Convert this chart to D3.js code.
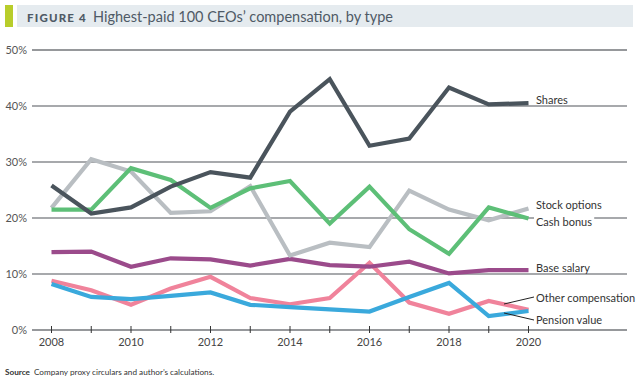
<!DOCTYPE html>
<html><head><meta charset="utf-8">
<script src="https://cdn.jsdelivr.net/npm/d3@7/dist/d3.min.js"></script>
<style>
body{margin:0;background:#fff;}
svg{display:block;font-family:Lato,"Open Sans",sans-serif;}
</style></head>
<body><svg id="c" width="640" height="386"></svg>
<script>
const years = [2008,2009,2010,2011,2012,2013,2014,2015,2016,2017,2018,2019,2020];
const shares        = [25.8,20.8,21.9,25.6,28.2,27.2,39.0,44.8,32.9,34.2,43.3,40.3,40.5];
const cashBonus     = [21.5,21.5,28.9,26.8,21.8,25.3,26.6,19.0,25.6,18.0,13.6,21.9,19.9];
const stockOptions  = [21.8,30.5,28.3,20.9,21.2,25.7,13.3,15.6,14.8,24.9,21.5,19.6,21.7];
const baseSalary    = [13.9,14.0,11.3,12.8,12.6,11.5,12.7,11.6,11.3,12.2,10.1,10.7,10.7];
const otherComp     = [8.8,7.1,4.5,7.4,9.5,5.7,4.6,5.7,12.0,4.9,2.9,5.2,3.6];
const pensionValue  = [8.2,5.9,5.5,6.1,6.7,4.5,4.1,3.7,3.3,5.9,8.4,2.5,3.4];
const yTicks = [0,10,20,30,40,50];
const xTickLabels = [2008,2010,2012,2014,2016,2018,2020];

const series = [
  {name:"Other compensation", values:otherComp, color:"#f0839b"},
  {name:"Pension value", values:pensionValue, color:"#3aa9dc"},
  {name:"Base salary", values:baseSalary, color:"#9b4b8b"},
  {name:"Stock options", values:stockOptions, color:"#b9bec2"},
  {name:"Cash bonus", values:cashBonus, color:"#5dbf77"},
  {name:"Shares", values:shares, color:"#4a545c"}
];

const svg = d3.select("#c");
const x = d3.scaleLinear().domain([2008,2020]).range([51.5,528.5]);
const y = d3.scaleLinear().domain([0,50]).range([330,50]);
const gx0 = 32, gx1 = 627;

// title banner
svg.append("rect").attr("x",5).attr("y",5).attr("width",8).attr("height",22).attr("fill","#b8cd2b");
svg.append("rect").attr("x",17).attr("y",5).attr("width",616).attr("height",22).attr("fill","#e5ebef");
const t = svg.append("text").attr("x",27).attr("y",21.5).attr("fill","#4f5a66");
t.append("tspan").attr("font-weight","900").attr("font-size",11.5).attr("letter-spacing",1.2).text("FIGURE 4");
t.append("tspan").attr("dx",6).attr("font-size",14.5).text("Highest-paid 100 CEOs’ compensation, by type");

// gridlines
svg.append("g").selectAll("line").data(yTicks).join("line")
  .attr("x1",gx0).attr("x2",gx1)
  .attr("y1",d=>y(d)).attr("y2",d=>y(d))
  .attr("stroke",d=>(d===0||d===50)?"#2f3338":"#8a8d90")
  .attr("stroke-width",d=>(d===0||d===50)?1.1:1.3);

// y labels
svg.append("g").selectAll("text").data(yTicks).join("text")
  .attr("x",27).attr("y",d=>y(d)+4).attr("text-anchor","end")
  .attr("font-size",11).attr("fill","#555").text(d=>d+"%");

// x axis ticks
svg.append("g").selectAll("line").data(years).join("line")
  .attr("x1",d=>x(d)).attr("x2",d=>x(d)).attr("y1",326).attr("y2",333)
  .attr("stroke","#333").attr("stroke-width",1);
svg.append("g").selectAll("text").data(xTickLabels).join("text")
  .attr("x",d=>x(d)).attr("y",346).attr("text-anchor","middle")
  .attr("font-size",11).attr("fill","#444").text(d=>d);

// lines
const line = d3.line().x((d,i)=>x(years[i])).y(d=>y(d));
svg.append("g").selectAll("path").data(series).join("path")
  .attr("d",d=>line(d.values)).attr("fill","none")
  .attr("stroke",d=>d.color).attr("stroke-width",4.2)
  .attr("stroke-linejoin","miter").attr("stroke-linecap","butt");

// labels
const lab = [
  {text:"Shares", y:104},
  {text:"Stock options", y:209},
  {text:"Cash bonus", y:226, knock:true},
  {text:"Base salary", y:272},
  {text:"Other compensation", y:302},
  {text:"Pension value", y:324}
];
const lg = svg.append("g");
lab.forEach(l=>{
  const tx = lg.append("text").attr("x",536).attr("y",l.y).attr("font-size",11)
    .attr("fill","#333").text(l.text);
  if(l.knock){
    const bb = tx.node().getBBox();
    lg.insert("rect","text").attr("x",bb.x-2).attr("y",bb.y).attr("width",bb.width+4).attr("height",bb.height).attr("fill","#fff");
  }
});
// leaders
svg.append("line").attr("x1",504).attr("y1",304).attr("x2",534).attr("y2",297).attr("stroke","#222").attr("stroke-width",1);
svg.append("line").attr("x1",504).attr("y1",313).attr("x2",534).attr("y2",320).attr("stroke","#222").attr("stroke-width",1);

// source
const s = svg.append("text").attr("x",5).attr("y",375).attr("font-size",8.2).attr("fill","#333");
s.append("tspan").attr("font-weight","bold").text("Source");
s.append("tspan").attr("dx",4).text("Company proxy circulars and author’s calculations.");
</script></body></html>
